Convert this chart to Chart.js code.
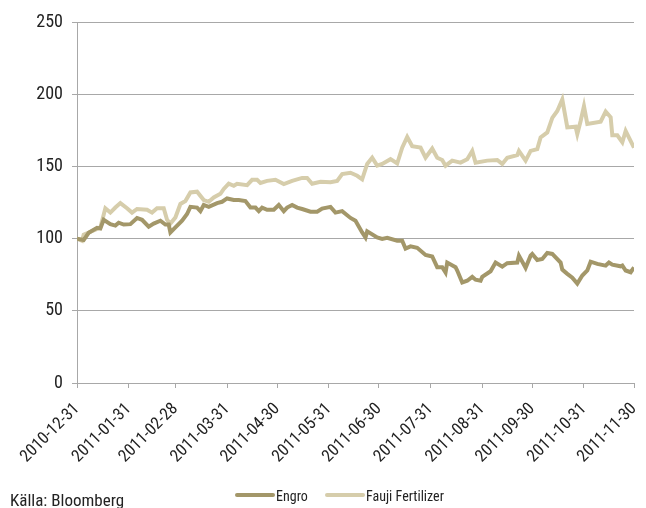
<!DOCTYPE html>
<html>
<head>
<meta charset="utf-8">
<script src="https://cdn.jsdelivr.net/npm/chart.js@4/dist/chart.umd.min.js"></script>
<style>
 html,body{margin:0;padding:0;background:#fff;}
 #wrap{position:relative;width:646px;height:508px;overflow:hidden;font-family:"Roboto Condensed","DejaVu Sans Condensed",sans-serif;color:#222;}
 #source{position:absolute;left:10px;top:492px;font-size:17px;line-height:17px;white-space:nowrap;}
 .key{position:absolute;height:4px;top:493px;width:40px;border-radius:2px;}
 .keytxt{position:absolute;top:489px;font-size:14px;line-height:14px;white-space:nowrap;}
</style>
</head>
<body>
<div id="wrap">
 <canvas id="chart" width="646" height="508"></canvas>
 <div id="legend"></div>
 <div id="source">Källa: Bloomberg</div>
</div>
<script>
const FONT="'Roboto Condensed','DejaVu Sans Condensed',sans-serif";

/* dagar räknat från 2010-12-31 */
const tickDays=[0,31,59,90,120,151,181,212,243,273,304,334];
const tickLabels=["2010-12-31","2011-01-31","2011-02-28","2011-03-31","2011-04-30","2011-05-31","2011-06-30","2011-07-31","2011-08-31","2011-09-30","2011-10-31","2011-11-30"];

const engroDays=[0,4,7,12,14,16,20,23,25,28,32,36,39,43,46,50,53,55,56,59,63,66,68,72,74,76,79,84,87,90,94,97,101,104,107,109,111,114,118,121,124,126,129,132,135,140,144,147,152,155,159,164,167,171,173,174,180,183,186,192,195,197,200,204,209,213,216,219,221,222,227,228,231,234,237,239,242,243,248,251,255,258,264,265,269,272,273,276,279,282,285,290,291,294,297,300,303,306,308,312,317,319,321,326,327,329,332,334];
const engroValues=[100,99,104,107.5,107,113,110,109,111,109.7,110,114.3,113,108.3,110.4,112.4,109.7,109.7,104.3,107.8,112.4,117,122,121.5,119,123.3,122,124.6,125.5,127.8,126.7,126.7,126,121.5,121.5,119,121.5,120,120,123.3,119,121.5,123.3,121.5,120.5,118.6,118.6,120.8,122,118,119,114.3,112.4,104.3,100.8,105,100.8,99.8,100.5,98.5,98.5,93.1,94.6,93.6,88.7,87.6,80.2,80.2,76.5,83.4,80.2,77.9,69.6,70.8,73.5,71.5,70.8,73.5,77.4,83.4,80.6,83,83.4,88.2,79.8,88.2,89.4,85.2,85.9,90,89.4,83.4,78.5,75.6,72.9,68.8,74.4,77.9,84,82.5,81.3,83.4,82,80.8,81.3,77.9,76.7,80];

const faujiDays=[0,3,4,14,17,20,23,26,30,33,36,42,45,48,52,54,56,59,62,65,68,72,76,79,82,86,88,91,94,96,102,105,108,110,114,119,124,129,135,138,141,146,152,156,159,164,168,171,174,177,180,183,188,192,195,198,201,206,209,213,216,219,221,225,230,234,237,239,246,252,255,258,264,265,269,272,276,278,282,285,288,291,294,299,300,302,304,306,314,317,320,321,324,327,329,334];
const faujiValues=[100,98.5,102.7,107.6,121,118,121.5,124.6,121,118,120.5,120,118,121,121,113,110.4,114.6,124,126,132,132.5,126.7,125.5,128.5,131,134.4,138,136.6,138,137,140.7,140.7,138.5,140,140.7,137.8,140,142,142,138,139.4,139,140,144.7,145.6,143.5,141,151.7,156,150.5,151.7,155,152,163,170.4,164,163,156,162.4,156,154.4,150.5,154,152.6,155,160.7,152.6,154,154.4,151.7,156,157.8,160.7,154,160.7,162,170,173.5,183.6,188.4,196.4,177,177.5,172.4,181.4,191.7,179.4,181,188,184,171.5,171.5,166.7,174.5,163];

const yTicks=[0,50,100,150,200,250];
const seriesNames=["Engro","Fauji Fertilizer"];

const engroColor="#a39769";
const faujiColor="#d6cdab";
const gridColor="#a8a8a8";

function toPoints(days,vals){
 return days.map((d,i)=>({x:d,y:vals[i]}));
}

/* legend i HTML */
const keyPos=[{box:235,txt:276},{box:325,txt:366}];
const legend=document.getElementById("legend");
[engroColor,faujiColor].forEach((col,i)=>{
 legend.innerHTML+=`<div class="key" style="left:${keyPos[i].box}px;background:${col}"></div>`+
  `<div class="keytxt" style="left:${keyPos[i].txt}px">${seriesNames[i]}</div>`;
});

new Chart(document.getElementById("chart"),{
 type:"line",
 data:{
  datasets:[
   {label:seriesNames[0],data:toPoints(engroDays,engroValues),borderColor:engroColor,borderWidth:4,pointRadius:0,tension:0},
   {label:seriesNames[1],data:toPoints(faujiDays,faujiValues),borderColor:faujiColor,borderWidth:4,pointRadius:0,tension:0}
  ]
 },
 options:{
  responsive:false,
  animation:false,
  layout:{padding:{top:22,right:12,left:0,bottom:0}},
  plugins:{tooltip:{enabled:false},legend:{display:false}},
  scales:{
   x:{
    type:"linear",min:0,max:334,
    afterBuildTicks:s=>{s.ticks=tickDays.map(v=>({value:v}));},
    afterFit:s=>{s.height=125;s.paddingRight=0;s.paddingLeft=0;},
    ticks:{
     autoSkip:false,maxRotation:45,minRotation:45,color:"#222",padding:11,
     font:{family:FONT,size:17},
     callback:v=>tickLabels[tickDays.indexOf(v)]
    },
    grid:{drawOnChartArea:false,drawTicks:true,tickLength:5,color:gridColor},
    border:{color:gridColor,width:1}
   },
   y:{
    min:0,max:250,
    afterBuildTicks:s=>{s.ticks=yTicks.map(v=>({value:v}));},
    afterFit:s=>{s.width=77;},
    ticks:{color:"#222",padding:9,font:{family:FONT,size:18}},
    grid:{color:gridColor,lineWidth:1,tickLength:5},
    border:{color:gridColor,width:1}
   }
  }
 }
});
</script>
</body>
</html>
